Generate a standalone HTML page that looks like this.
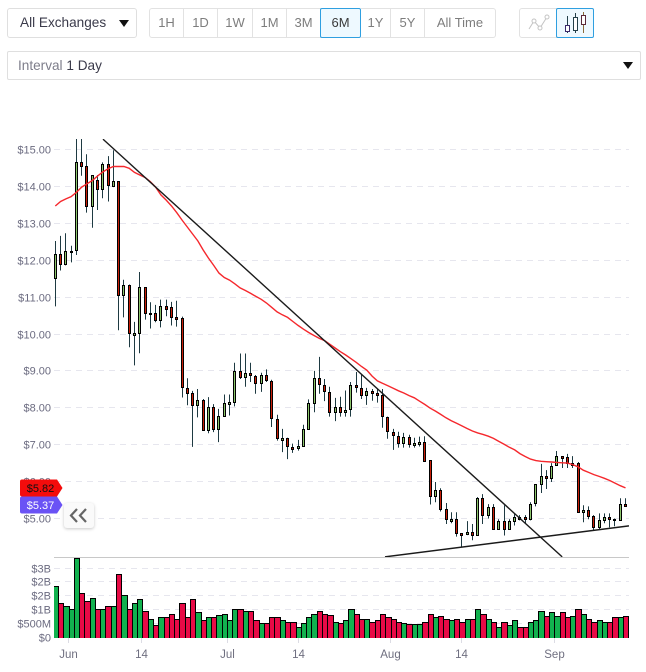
<!DOCTYPE html>
<html>
<head>
<meta charset="utf-8">
<title>Price chart</title>
<style>
html,body{margin:0;padding:0;background:#fff;}
body{width:646px;height:672px;position:relative;overflow:hidden;font-family:"Liberation Sans",sans-serif;}
.box{position:absolute;box-sizing:border-box;border:1px solid #dfdfdf;background:#fff;}
.btn{position:absolute;box-sizing:border-box;top:8px;height:30px;line-height:28px;text-align:center;font-size:13px;color:#7d7d7d;border:1px solid #e2e2e2;border-left-width:0;background:#fff;}
.btn.first{border-left-width:1px;border-radius:3px 0 0 3px;}
.btn.last{border-radius:0 3px 3px 0;}
.btn.on{background:#eef9ff;border:1px solid #2f9fe0;color:#3a3a3a;border-radius:2px;z-index:2;}
.tri{position:absolute;width:0;height:0;border-left:5px solid transparent;border-right:5px solid transparent;border-top:7px solid #111;}
svg text{font-family:"Liberation Sans",sans-serif;}
</style>
</head>
<body>

<div class="box" style="left:7px;top:8px;width:130px;height:30px;border-radius:3px;font-size:13.6px;line-height:28px;color:#3a3a4a;padding-left:12px;">All Exchanges<span class="tri" style="left:111px;top:11px;"></span></div>

<div class="btn first" style="left:149px;width:35px;">1H</div>
<div class="btn" style="left:184px;width:34px;">1D</div>
<div class="btn" style="left:218px;width:35px;">1W</div>
<div class="btn" style="left:253px;width:34px;">1M</div>
<div class="btn" style="left:287px;width:34px;">3M</div>
<div class="btn on" style="left:320px;width:41px;">6M</div>
<div class="btn" style="left:361px;width:30px;">1Y</div>
<div class="btn" style="left:391px;width:34px;">5Y</div>
<div class="btn last" style="left:425px;width:71px;">All Time</div>

<div class="btn first" style="left:519px;width:38px;border-radius:3px 0 0 3px;">
<svg width="36" height="28" style="position:absolute;left:0;top:0;">
<polyline points="9,20 14,12 20,19 27,8" fill="none" stroke="#c4c4c4" stroke-width="1"/>
<circle cx="14" cy="12" r="2" fill="#fff" stroke="#c4c4c4"/><circle cx="20" cy="19" r="2" fill="#fff" stroke="#c4c4c4"/><circle cx="27" cy="8" r="2" fill="#fff" stroke="#c4c4c4"/>
</svg></div>
<div class="btn on" style="left:556px;width:38px;">
<svg width="36" height="28" style="position:absolute;left:0;top:0;">
<line x1="10.5" y1="7" x2="10.5" y2="24" stroke="#24404a"/><rect x="8.5" y="16.5" width="4" height="6" fill="#fff" stroke="#3a2a6a"/>
<line x1="18.5" y1="4" x2="18.5" y2="24" stroke="#24404a"/><rect x="16.5" y="8.5" width="4" height="13" fill="#fff" stroke="#24404a"/>
<line x1="26.5" y1="3" x2="26.5" y2="24" stroke="#8a6a3a"/><rect x="24.5" y="6.5" width="4" height="9" fill="#fff" stroke="#5a2a3a"/>
</svg></div>

<div class="box" style="left:7px;top:51px;width:634px;height:29px;border-radius:2px;font-size:13.6px;line-height:27px;color:#7d7d8a;padding-left:10px;">Interval <span style="color:#3a3a4a;">1 Day</span><span class="tri" style="left:615px;top:10px;"></span></div>

<svg id="chart" width="646" height="672" style="position:absolute;left:0;top:0;pointer-events:none;"></svg>

<div style="position:absolute;left:64px;top:503px;width:30px;height:25px;background:#fafafa;border-radius:3px;box-shadow:0 1px 3px rgba(0,0,0,.22);">
<svg width="30" height="25" style="position:absolute;left:0;top:0;">
<polyline points="13,6 7,12.5 13,19" fill="none" stroke="#666" stroke-width="2.2"/>
<polyline points="22,6 16,12.5 22,19" fill="none" stroke="#666" stroke-width="2.2"/>
</svg></div>

<script>
const opens = [11.53,12.16,11.91,12.24,12.27,14.65,14.54,13.46,14.16,13.94,
14.62,14.02,14.14,11.05,11.32,9.96,10.03,11.27,10.57,10.57,
10.38,10.76,10.73,10.46,10.43,8.54,8.4,8.07,8.21,7.4,
8.02,7.43,7.78,8.11,8.16,9.0,8.84,8.95,8.86,8.68,
8.89,8.73,7.70,7.13,7.19,6.95,6.92,6.97,7.43,8.14,
8.81,8.62,8.43,7.89,8.03,7.89,7.97,8.62,8.54,8.35,
8.46,8.41,8.35,7.76,7.35,7.24,7.05,7.22,7.0,7.03,
7.08,6.58,5.6,5.77,5.25,4.93,4.98,4.6,4.57,4.63,
4.55,5.55,5.09,5.31,4.72,4.93,4.71,4.93,5.05,5.03,
4.98,5.42,5.93,6.15,6.1,6.45,6.69,6.67,6.45,6.5,
5.17,5.23,5.06,4.76,4.95,5.03,5.0,4.95,5.39];
const highs = [12.52,12.66,12.73,12.39,15.6,15.6,14.87,14.31,14.31,14.65,
14.82,14.98,14.14,11.47,11.34,10.33,11.68,11.27,10.86,10.79,
10.93,10.93,10.87,10.9,10.47,8.8,8.46,8.51,8.24,8.29,
8.1,7.97,8.36,8.36,9.22,9.47,9.47,9.22,8.89,8.95,
9.04,8.76,7.81,7.43,7.19,7.03,7.13,7.54,8.23,9.0,
9.38,8.78,8.57,8.27,8.3,8.47,8.7,8.97,8.92,8.54,
8.51,8.51,8.51,7.76,7.43,7.35,7.32,7.27,7.19,7.22,
7.23,6.58,5.99,5.82,5.42,5.17,5.17,4.6,4.93,4.85,
5.58,5.66,5.39,5.39,4.98,5.36,4.98,5.12,5.09,5.09,
5.44,5.93,6.48,6.31,6.5,6.83,6.69,6.75,6.69,6.53,
5.36,5.33,5.09,5.14,5.14,5.14,5.0,5.55,5.55];
const lows = [10.75,11.72,11.86,11.94,12.14,14.29,13.29,12.88,13.36,13.68,
13.59,13.98,10.1,10.45,9.64,9.15,9.48,10.39,10.15,10.32,
10.18,10.48,10.23,10.2,8.28,8.07,6.94,7.74,7.4,7.31,
7.34,7.07,7.77,7.79,8.04,8.78,8.57,8.7,8.38,8.43,
8.7,7.48,7.11,6.8,6.61,6.78,6.84,6.95,7.41,7.88,
8.38,8.18,7.76,7.64,7.76,7.76,7.76,8.41,8.24,8.08,
8.19,8.14,7.46,7.16,6.86,6.92,6.92,6.92,6.92,6.95,
6.55,5.38,5.44,5.19,4.85,4.87,4.51,4.22,4.55,4.41,
4.53,4.85,5.0,4.71,4.71,4.54,4.69,4.81,4.95,4.85,
4.95,5.33,5.69,5.8,5.99,6.45,6.37,6.37,6.37,5.17,
4.9,4.98,4.66,4.71,4.87,4.76,4.79,4.95,5.33];
const closes = [12.16,11.91,12.24,12.24,14.65,14.54,13.46,14.3,13.94,14.62,
14.04,14.14,11.05,11.32,10.03,10.03,11.27,10.56,10.57,10.38,
10.76,10.69,10.46,10.40,8.56,8.4,8.07,8.21,7.4,8.02,
7.43,7.78,8.14,8.16,9.0,8.84,8.95,8.89,8.68,8.89,
8.76,7.73,7.19,7.19,6.97,6.89,6.97,7.43,8.14,8.81,
8.65,8.46,7.89,8.03,7.89,7.95,8.62,8.57,8.35,8.46,
8.41,8.35,7.78,7.38,7.27,7.05,7.22,7.03,7.05,7.08,
6.57,5.6,5.77,5.25,4.98,4.98,4.6,4.55,4.63,4.55,
5.55,5.09,5.31,4.72,4.93,4.71,4.93,5.05,4.98,4.98,
5.39,5.93,6.15,6.1,6.42,6.69,6.64,6.5,6.5,5.17,
5.23,5.06,4.76,4.95,5.03,4.98,4.95,5.39,5.33];
const movingAverage = [13.47,13.59,13.66,13.72,13.84,13.98,14.07,14.16,14.28,14.39,
14.48,14.54,14.54,14.54,14.49,14.38,14.31,14.24,14.13,13.98,
13.77,13.63,13.47,13.29,13.09,12.9,12.71,12.52,12.28,12.06,
11.86,11.65,11.53,11.46,11.36,11.25,11.18,11.1,11.02,10.94,
10.84,10.72,10.6,10.52,10.45,10.34,10.23,10.13,10.04,9.96,
9.88,9.82,9.72,9.62,9.52,9.43,9.33,9.23,9.12,9.02,
8.86,8.73,8.66,8.6,8.53,8.46,8.4,8.33,8.27,8.18,
8.09,7.99,7.91,7.82,7.73,7.65,7.58,7.51,7.44,7.37,
7.32,7.28,7.23,7.17,7.09,7.01,6.93,6.86,6.76,6.68,
6.61,6.57,6.55,6.54,6.53,6.52,6.51,6.5,6.46,6.4,
6.31,6.25,6.19,6.14,6.09,6.03,5.96,5.89,5.83];
const volumes = [1.86,1.24,1.14,1.03,2.87,1.6,1.29,1.43,1.0,1.0,
1.11,1.14,2.3,1.53,1.03,1.24,1.39,.93,.67,.42,
.71,.71,.85,.64,1.24,.71,1.39,.89,.6,.71,
.71,.78,.82,.6,1.0,1.0,.93,.93,.6,.49,
.49,.71,.71,.6,.56,.56,.38,.49,.71,.82,
.93,.85,.78,.53,.49,.6,1.0,.82,.64,.67,
.53,.6,.82,.71,.67,.53,.49,.46,.46,.46,
.56,.85,.71,.75,.64,.6,.64,.56,.67,.64,
1.0,.82,.64,.53,.38,.56,.42,.6,.35,.35,
.53,.6,.93,.75,.89,.75,.89,.71,.75,1.0,
.82,.64,.53,.6,.53,.56,.71,.71,.75];
const priceTicks = [15,14,13,12,11,10,9,8,7,6,5];
const volumeTicks = [0,0.5,1,1.5,2,2.5];
const volumeTickLabels = ["$0","$500M","$1B","$2B","$2B","$3B"];
const dateTickLabels = ["Jun","14","Jul","14","Aug","14","Sep"];
const dateTickIndexes = [2.46,16.16,32.6,46,63.4,76.8,94.5];
const trendLineA = {startIndex:9.03,startPrice:15.28,endIndex:96,endPrice:3.96};
const trendLineB = {startIndex:62.44,startPrice:3.96,endIndex:108.65,endPrice:4.8};
const lastPriceFlags = [{value:5.82,fill:"#f40c0c",ink:"#111"},{value:5.37,fill:"#6a52f5",ink:"#fff"}];

const NS = "http://www.w3.org/2000/svg";
const svg = document.getElementById("chart");
const xAxis = i => 55.3 + 5.28 * i;
const yAxis = p => 149.5 + (15 - p) * 36.9;
const volumeAxis = v => 637 - v * 27.6;
const PLOT_LEFT = 54, PLOT_RIGHT = 629;

function make(tag, attrs, parent) {
  const el = document.createElementNS(NS, tag);
  for (const k in attrs) el.setAttribute(k, attrs[k]);
  (parent || svg).appendChild(el);
  return el;
}

const defs = make("defs", {});
const clipPrice = make("clipPath", {id: "clip-price"}, defs);
make("rect", {x: PLOT_LEFT, y: 139, width: PLOT_RIGHT - PLOT_LEFT, height: 418}, clipPrice);
const clipVolume = make("clipPath", {id: "clip-volume"}, defs);
make("rect", {x: PLOT_LEFT, y: 557, width: PLOT_RIGHT - PLOT_LEFT, height: 81}, clipVolume);

// price grid and labels
priceTicks.forEach(p => {
  const y = Math.floor(yAxis(p)) + .5;
  const grid = make("line", {x1: PLOT_LEFT, x2: PLOT_RIGHT, y1: y, y2: y, stroke: "#e6e6ee", "stroke-dasharray": "6 5"});
  
  
  const t = make("text", {x: 51, y: y + 4, "text-anchor": "end", "font-size": 11, fill: "#6b6b80"});
  t.textContent = "$" + p.toFixed(2);
  
  
});

// volume grid and labels
volumeTicks.forEach((v, k) => {
  const y = Math.floor(volumeAxis(v)) + .5;
  if (v > 0) {
    const grid = make("line", {x1: PLOT_LEFT, x2: PLOT_RIGHT, y1: y, y2: y, stroke: "#e6e6ee", "stroke-dasharray": "6 5"});
    
    
  }
  const t = make("text", {x: 51, y: y + 4, "text-anchor": "end", "font-size": 11, fill: "#6b6b80"});
  t.textContent = volumeTickLabels[k];
  
  
});

// volume bars
const volumeLayer = make("g", {"clip-path": "url(#clip-volume)"});


volumes.forEach((v, i) => {
  const left = Math.round(xAxis(i) - 2.64);
  const right = Math.round(xAxis(i + 1) - 2.64);
  const top = Math.round(volumeAxis(v)) + .5;
  const bar = make("rect", {x: left + .5, y: top, width: right - left, height: 637 - top + 3,
    fill: closes[i] >= opens[i] ? "#12b24f" : "#e80a46", stroke: "#000", "stroke-width": 1}, volumeLayer);
  
  
});

// pane divider
const divider = make("line", {x1: PLOT_LEFT, x2: PLOT_RIGHT, y1: 557.5, y2: 557.5, stroke: "#c8c8c8", "stroke-width": 1});



// date axis
dateTickLabels.forEach((label, k) => {
  const x = Math.round(xAxis(dateTickIndexes[k])) + .5;
  const tick = make("line", {x1: x, x2: x, y1: 638, y2: 643, stroke: "#dcdce4"});
  
  
  const t = make("text", {x: x, y: 658, "text-anchor": "middle", "font-size": 11.5, fill: "#6f6f80"});
  t.textContent = label;
  
  
});

// candles
const candleLayer = make("g", {"clip-path": "url(#clip-price)"});


opens.forEach((o, i) => {
  const c = closes[i];
  const cx = Math.floor(xAxis(i)) + .5;
  const wick = make("line", {x1: cx, x2: cx, y1: yAxis(highs[i]), y2: yAxis(lows[i]), stroke: "#1e3a42", "stroke-width": 1}, candleLayer);
  
  
  const top = Math.round(yAxis(Math.max(o, c))) + .5;
  const bottom = Math.round(yAxis(Math.min(o, c))) + .5;
  const body = make("rect", {x: cx - 1, y: top, width: 2, height: Math.max(bottom - top, 1),
    fill: c >= o ? "#8cc66c" : "#c81e08", stroke: "#000", "stroke-width": 1}, candleLayer);
  
  
});

// moving average
const maPoints = movingAverage.map((p, i) => xAxis(i).toFixed(1) + "," + yAxis(p).toFixed(1)).join(" ");
const maLine = make("polyline", {points: maPoints, fill: "none", stroke: "#f5282d", "stroke-width": 1.4, "clip-path": "url(#clip-price)"});



// trend lines
const t1 = make("line", {x1: xAxis(trendLineA.startIndex), y1: yAxis(trendLineA.startPrice), x2: xAxis(trendLineA.endIndex), y2: yAxis(trendLineA.endPrice), stroke: "#1a1a1a", "stroke-width": 1.4, "clip-path": "url(#clip-price)"});


const t2 = make("line", {x1: xAxis(trendLineB.startIndex), y1: yAxis(trendLineB.startPrice), x2: xAxis(trendLineB.endIndex), y2: yAxis(trendLineB.endPrice), stroke: "#1a1a1a", "stroke-width": 1.4, "clip-path": "url(#clip-price)"});



// price flags
lastPriceFlags.forEach(f => {
  const yc = Math.round(yAxis(f.value));
  const g = make("g", {});
  
  
  make("path", {d: `M22 ${yc - 8.5}H57L62.5 ${yc}L57 ${yc + 8.5}H22Q20 ${yc + 8.5} 20 ${yc + 6.5}V${yc - 6.5}Q20 ${yc - 8.5} 22 ${yc - 8.5}Z`, fill: f.fill}, g);
  const t = make("text", {x: 40.5, y: yc + 4, "text-anchor": "middle", "font-size": 11, fill: f.ink}, g);
  t.textContent = "$" + f.value.toFixed(2);
});
</script>
</body>
</html>
